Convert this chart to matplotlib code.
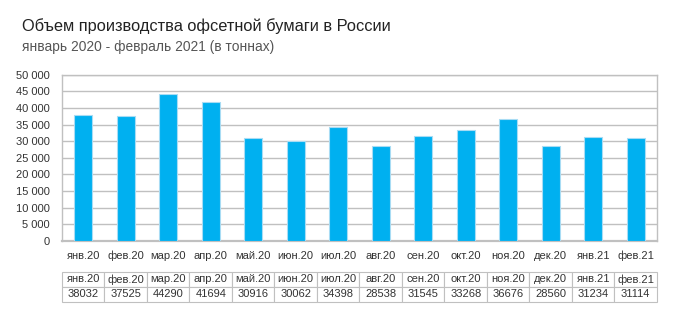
import matplotlib
matplotlib.use('Agg')
import matplotlib.pyplot as plt

months = ['янв.20', 'фев.20', 'мар.20', 'апр.20', 'май.20', 'июн.20', 'июл.20',
          'авг.20', 'сен.20', 'окт.20', 'ноя.20', 'дек.20', 'янв.21', 'фев.21']
tonnes = [38032, 37525, 44290, 41694, 30916, 30062, 34398,
          28538, 31545, 33268, 36676, 28560, 31234, 31114]
yticks = list(range(0, 50001, 5000))

plt.rcParams['font.family'] = ['Liberation Sans', 'DejaVu Sans']

grid_c = '#c0c0c0'
text_c = '#333333'

fig = plt.figure(figsize=(6.84, 3.30), dpi=100)
ax = fig.add_axes([0.0906, 0.2697, 0.8699, 0.5039])

x = range(len(months))
ax.bar(x, tonnes, width=0.42, color='#00b0f0', edgecolor='#a8dcf4', linewidth=0.8, zorder=3)
ax.set_xlim(-0.5, len(months) - 0.5)
ax.set_ylim(0, 50000)
ax.set_yticks(yticks)
ax.set_yticklabels([f'{v:,}'.replace(',', ' ') for v in yticks])
ax.set_xticks(list(x))
ax.set_xticklabels(months)
ax.tick_params(length=0, labelsize=8, colors=text_c)
ax.tick_params(axis='x', pad=7)
ax.tick_params(axis='y', pad=9)
ax.yaxis.grid(True, color=grid_c, linewidth=1, zorder=0)
for s in ax.spines.values():
    s.set_color(grid_c)
    s.set_linewidth(1)
ax.spines['bottom'].set_linewidth(1.6)

# data table under the axis labels
tbl = ax.table(cellText=[months, [str(v) for v in tonnes]],
               cellLoc='center', bbox=[0, -0.364, 1, 0.178])
tbl.auto_set_font_size(False)
tbl.set_fontsize(8)
for cell in tbl.get_celld().values():
    cell.set_edgecolor(grid_c)
    cell.set_linewidth(0.8)
    cell.get_text().set_color(text_c)

fig.text(0.032, 0.922, 'Объем производства офсетной бумаги в России',
         fontsize=11.8, color='#222222', va='center')
fig.text(0.032, 0.857, 'январь 2020 - февраль 2021 (в тоннах)',
         fontsize=9.9, color='#555555', va='center')

fig.savefig('out.png', dpi=100)
